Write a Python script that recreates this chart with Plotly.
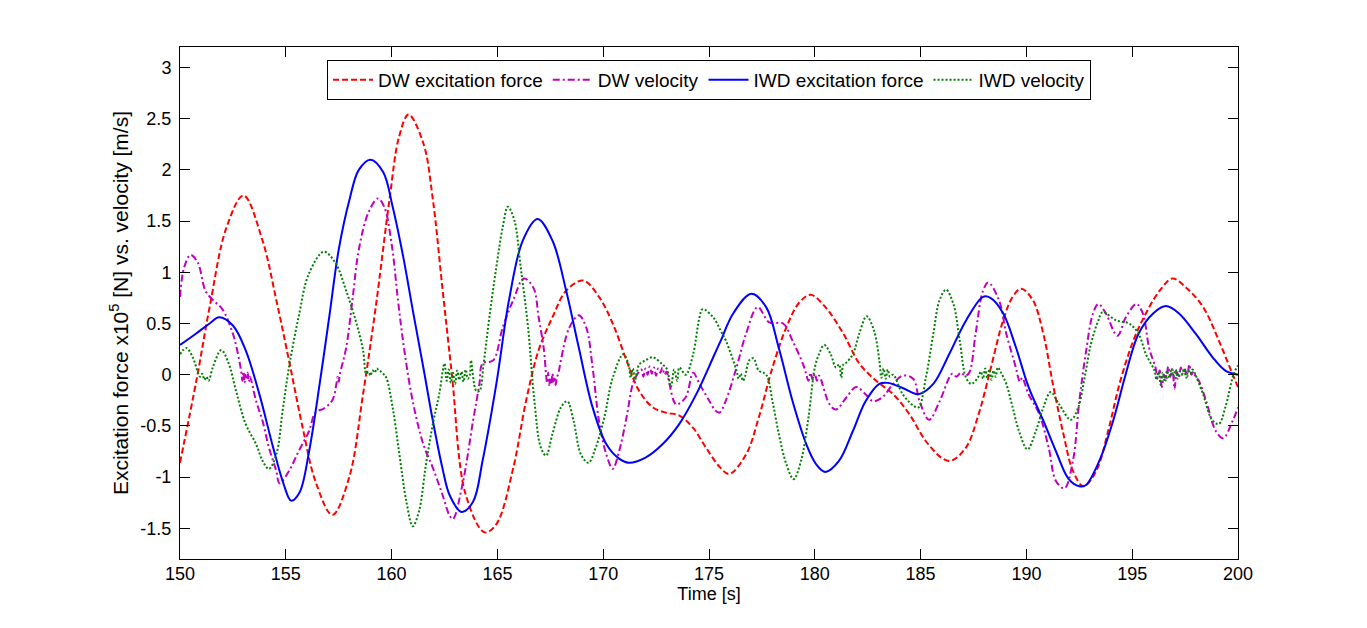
import plotly.graph_objects as go

# DW excitation force (x10^5 N)
dw_force_t = [150.0, 150.8, 151.4, 152.2, 153.0, 153.9, 154.55, 155.15, 155.8, 156.4, 157.2, 158.0, 158.65,
              159.25, 159.9, 160.35, 160.8, 161.5, 161.95, 162.4, 162.85, 163.5, 164.4, 164.95, 165.75, 166.35,
              166.95, 167.6, 168.25, 169.05, 169.8, 170.45, 171.1, 171.7, 172.35, 172.95, 173.6, 174.25, 174.85,
              175.5, 175.95, 176.75, 177.35, 178.0, 178.65, 179.25, 179.8, 180.5, 181.35, 182.1, 182.9, 183.7,
              184.45, 185.25, 186.05, 186.45, 187.15, 187.75, 188.3, 188.9, 189.35, 189.75, 190.3, 190.8, 191.25,
              191.75, 192.2, 192.7, 193.3, 193.9, 194.4, 195.05, 195.65, 196.3, 196.9, 197.55, 198.35, 199.1,
              199.75, 200.0]
dw_force_v = [-0.86, -0.03, 0.66, 1.44, 1.75, 1.31, 0.73, 0.14, -0.52, -1.04, -1.37, -1.0, -0.19,
              0.66, 1.71, 2.32, 2.54, 2.26, 1.71, 0.85, 0.0, -1.17, -1.54, -1.46, -0.91, -0.26,
              0.24, 0.56, 0.82, 0.92, 0.76, 0.5, 0.14, -0.16, -0.32, -0.37, -0.40, -0.52, -0.71,
              -0.9, -0.97, -0.78, -0.42, 0.07, 0.46, 0.7, 0.78, 0.66, 0.4, 0.11, -0.06, -0.19,
              -0.38, -0.65, -0.82, -0.84, -0.71, -0.38, 0.05, 0.53, 0.76, 0.84, 0.73, 0.4, -0.09,
              -0.58, -0.94, -1.09, -0.94, -0.52, -0.09, 0.33, 0.6, 0.82, 0.94, 0.85, 0.66, 0.33,
              0.0, -0.12]

# DW velocity (m/s)
dw_vel_t = [150.0, 150.2, 150.5, 150.85, 151.2, 151.55, 152.0, 152.5, 152.8,
            152.9, 152.95, 153.0, 153.05, 153.1, 153.15, 153.2, 153.25, 153.3,
            153.6, 153.9, 154.2, 154.55, 154.7, 155.15, 155.6, 156.1, 156.4, 156.8, 157.2,
            157.4, 157.45, 157.5, 157.55, 157.85, 158.15, 158.45, 158.9, 159.35, 159.65, 160.0,
            160.3, 160.6, 161.0, 161.5, 161.95, 162.4, 162.75, 162.9, 163.35, 163.85, 164.15,
            164.3, 164.8, 165.25, 165.75, 166.25, 166.7, 166.95, 167.2,
            167.3, 167.35, 167.4, 167.45, 167.5, 167.55, 167.6, 167.65, 167.7, 167.75, 167.8, 167.9,
            168.0, 168.4, 168.85, 169.2, 169.5, 169.8, 170.15, 170.45, 170.75, 171.1, 171.4, 171.6,
            171.8, 171.9, 172.0, 172.1, 172.2, 172.3, 172.4, 172.5, 172.6, 172.7, 172.8, 172.9, 173.0,
            173.1, 173.45, 173.9, 174.25, 174.55, 175.0, 175.3, 175.5, 175.8, 176.3, 176.75, 177.3,
            177.85, 178.5, 178.95, 179.45,
            179.6, 179.7, 179.8, 179.9, 180.0, 180.1, 180.2, 180.3,
            180.4, 180.7, 181.0, 181.5, 181.95, 182.4, 182.75, 183.2, 183.7, 184.15, 184.65, 184.95,
            185.4, 185.9, 186.35, 186.5, 186.7, 186.9, 187.1, 187.3, 187.6, 187.95, 188.2, 188.7,
            189.05, 189.5, 189.6, 189.7, 189.8, 190.1, 190.6, 191.05, 191.4, 191.8, 192.2, 192.5,
            192.8, 193.15, 193.4, 193.75, 194.3, 194.7, 195.2, 195.5, 195.8, 196.1,
            196.2, 196.3, 196.4, 196.5, 196.6, 196.7, 196.8, 196.9, 197.0, 197.1, 197.2, 197.3,
            197.4, 197.5, 197.6, 197.7, 197.8, 197.9, 198.0,
            198.15, 198.5, 198.95, 199.3, 199.75, 200.0]
dw_vel_v = [0.76, 1.05, 1.17, 1.09, 0.82, 0.73, 0.64, 0.4, 0.14,
            0.02, -0.06, 0.03, -0.08, 0.0, -0.05, 0.02, -0.07, -0.02,
            -0.26, -0.45, -0.71, -0.94, -1.06, -0.94, -0.75, -0.55, -0.37, -0.33, -0.25,
            -0.08, -0.02, -0.07, 0.0, 0.26, 0.73, 1.22, 1.58, 1.72, 1.64, 1.28,
            0.73, 0.24, -0.26, -0.68, -0.91, -1.17, -1.38, -1.41, -1.07, -0.45, -0.09,
            0.11, 0.14, 0.46, 0.73, 0.94, 0.85, 0.56, 0.24,
            0.0, -0.08, 0.02, -0.1, -0.03, -0.09, 0.01, -0.07, -0.02, -0.1, -0.04, 0.03,
            0.14, 0.46, 0.58, 0.46, 0.07, -0.45, -0.78, -0.92, -0.75, -0.42, -0.09, 0.0,
            0.05, -0.02, 0.06, 0.0, 0.08, 0.01, 0.07, -0.01, 0.06, 0.02, 0.07, 0.0, 0.03,
            -0.06, -0.29, -0.22, 0.02, -0.09, -0.25, -0.35, -0.37, -0.25, 0.07, 0.4, 0.66,
            0.51, 0.5, 0.33, 0.1,
            0.0, -0.06, 0.02, -0.05, 0.01, -0.06, -0.01, -0.05,
            -0.12, -0.29, -0.34, -0.22, -0.12, -0.19, -0.26, -0.22, -0.09, -0.01, -0.04, -0.26,
            -0.44, -0.26, -0.03, 0.01, -0.02, 0.02, -0.01, 0.02, 0.4, 0.82, 0.9, 0.73,
            0.4, 0.07, -0.02, -0.07, -0.03, -0.19, -0.38, -0.71, -1.04, -1.11, -0.84, -0.26,
            0.2, 0.6, 0.69, 0.6, 0.38, 0.56, 0.69, 0.6, 0.26, 0.07,
            -0.03, 0.04, -0.12, 0.0, -0.05, 0.08, -0.02, 0.05, -0.14, 0.03, -0.03, 0.07,
            0.0, 0.05, -0.02, 0.1, 0.0, 0.03, -0.02,
            -0.06, -0.26, -0.55, -0.62, -0.45, -0.32]

# IWD excitation force (x10^5 N)
iwd_force_t = [150.0, 150.75, 151.4, 151.85, 152.5, 153.1, 153.75, 154.4, 154.9, 155.25, 155.65, 156.1,
               156.6, 157.05, 157.5, 158.0, 158.45, 159.0, 159.6, 160.05, 160.55, 161.0, 161.5, 161.95,
               162.4, 162.75, 163.3, 163.85, 164.3, 164.95, 165.55, 166.2, 166.9, 167.6, 168.25, 168.85,
               169.5, 170.15, 170.75, 171.2, 172.0, 172.8, 173.6, 174.4, 175.2, 175.55, 176.15, 177.0,
               177.7, 178.3, 178.95, 179.6, 180.05, 180.5, 181.15, 181.8, 182.4, 183.05, 183.45, 184.15,
               184.9, 185.6, 186.35, 187.15, 187.95, 188.3, 188.9, 189.5, 190.1, 190.8, 191.4, 192.0,
               192.5, 192.8, 193.45, 194.1, 194.7, 195.3, 196.0, 196.6, 197.2, 198.0, 198.8, 199.4,
               200.0]
iwd_force_v = [0.29, 0.4, 0.5, 0.56, 0.48, 0.24, -0.19, -0.71, -1.07, -1.23, -1.15, -0.75,
               -0.09, 0.56, 1.22, 1.7, 2.0, 2.1, 1.98, 1.64, 1.15, 0.63, 0.07, -0.45,
               -0.91, -1.18, -1.34, -1.24, -0.84, -0.09, 0.73, 1.31, 1.52, 1.31, 0.82, 0.26,
               -0.32, -0.68, -0.82, -0.86, -0.81, -0.68, -0.48, -0.19, 0.17, 0.33, 0.6, 0.79,
               0.66, 0.26, -0.26, -0.68, -0.87, -0.95, -0.84, -0.55, -0.26, -0.09, -0.08, -0.13,
               -0.19, -0.09, 0.2, 0.53, 0.76, 0.75, 0.6, 0.27, -0.12, -0.45, -0.75, -1.02,
               -1.09, -1.08, -0.84, -0.45, 0.01, 0.4, 0.6, 0.67, 0.6, 0.4, 0.17, 0.04,
               0.0]

# IWD velocity (m/s)
iwd_vel_t = [150.0, 150.3, 150.6, 150.85, 150.95, 151.05, 151.15, 151.25, 151.35, 151.55, 151.95, 152.3,
             152.65, 153.1, 153.6, 153.9, 154.2, 154.55, 154.85, 155.15, 155.6, 156.1, 156.8, 157.35,
             157.85, 158.3, 158.65, 158.8, 158.9, 159.0, 159.1, 159.2, 159.3, 159.4, 159.5, 159.6,
             159.75, 160.05, 160.35, 160.7, 161.0, 161.3, 161.6, 161.95, 162.25, 162.5,
             162.6, 162.7, 162.8, 162.9, 163.0, 163.1, 163.2, 163.3, 163.4, 163.5, 163.6, 163.7,
             163.75, 164.0, 164.15, 164.35, 164.6, 164.95, 165.25, 165.5, 165.8, 166.1, 166.45, 166.75,
             167.05, 167.3, 167.6, 168.0, 168.3, 168.6, 168.95, 169.3, 169.65, 170.05, 170.45, 170.95,
             171.2, 171.3, 171.4, 171.5, 171.6, 171.7, 172.0, 172.35, 172.8, 173.0, 173.2, 173.35,
             173.5, 173.6, 173.9, 174.25, 174.55, 174.7, 175.2, 175.55, 175.8, 176.3,
             176.4, 176.5, 176.6, 176.7, 176.9, 177.1, 177.35, 177.7, 178.0, 178.3, 178.65, 179.0,
             179.35, 179.7, 180.0, 180.2, 180.45, 180.75, 181.0, 181.15, 181.25, 181.35, 181.5, 181.8,
             182.1, 182.45, 182.8, 183.05, 183.15, 183.25, 183.35, 183.45, 183.55, 183.7, 184.15, 184.65,
             184.9, 185.25, 185.6, 185.9, 186.2, 186.55, 186.85, 187.15, 187.4, 187.7,
             187.85, 187.95, 188.05, 188.15, 188.25, 188.35, 188.45, 188.55, 188.65, 188.8,
             189.05, 189.35, 189.65, 190.05, 190.45, 190.8, 191.15, 191.55, 192.1, 192.45, 192.75, 193.05,
             193.4, 193.6, 194.25, 194.85, 195.3, 195.65, 196.05,
             196.15, 196.25, 196.35, 196.45, 196.55, 196.65, 196.75, 196.85, 196.95, 197.05, 197.15,
             197.25, 197.35, 197.45, 197.55, 197.65, 197.75, 197.85, 197.95,
             198.05, 198.35, 198.8, 199.1, 199.4, 199.8, 200.0]
iwd_vel_v = [0.2, 0.26, 0.17, 0.02, -0.02, 0.01, -0.05, -0.02, -0.06, 0.07, 0.24, 0.11,
             -0.16, -0.48, -0.68, -0.84, -0.92, -0.78, -0.35, 0.07, 0.56, 0.99, 1.2, 1.09,
             0.82, 0.53, 0.24, 0.01, 0.03, -0.01, 0.04, 0.02, 0.06, 0.04, 0.03, 0.01,
             -0.03, -0.32, -0.75, -1.24, -1.48, -1.33, -0.91, -0.48, -0.19, 0.11,
             -0.06, 0.05, -0.08, 0.02, -0.09, 0.04, -0.05, 0.03, -0.07, 0.05, -0.04, 0.0,
             0.14, -0.16, -0.16, 0.11, 0.53, 1.05, 1.44, 1.64, 1.51, 1.05, 0.46, -0.26,
             -0.71, -0.79, -0.58, -0.32, -0.26, -0.45, -0.78, -0.86, -0.71, -0.42, -0.03, 0.2,
             0.1, -0.03, 0.06, -0.05, 0.03, 0.1, 0.14, 0.17, 0.1, 0.06, -0.12, 0.05,
             -0.06, 0.07, 0.0, 0.2, 0.56, 0.64, 0.56, 0.43, 0.33, 0.04,
             -0.04, 0.01, -0.06, -0.02, 0.14, 0.16, 0.04, 0.0, -0.26, -0.58, -0.87, -1.02,
             -0.84, -0.42, 0.07, 0.2, 0.29, 0.2, 0.07, 0.1, -0.03, 0.1, 0.12, 0.2,
             0.4, 0.57, 0.43, 0.14, -0.03, 0.06, -0.04, 0.05, -0.02, 0.0, -0.19, -0.3,
             -0.32, -0.03, 0.4, 0.73, 0.83, 0.69, 0.33, -0.03, -0.09, -0.03,
             0.03, -0.04, 0.06, -0.03, 0.05, -0.05, 0.04, -0.02, 0.07, 0.02,
             -0.09, -0.32, -0.55, -0.73, -0.55, -0.32, -0.17, -0.29, -0.44, -0.32, -0.03, 0.3,
             0.53, 0.61, 0.53, 0.5, 0.4, 0.2, 0.04,
             -0.05, 0.03, -0.1, 0.02, -0.07, 0.04, -0.03, 0.06, -0.02, 0.05, -0.04,
             0.03, 0.0, 0.06, -0.03, 0.04, 0.01, 0.05, 0.02,
             -0.03, -0.19, -0.45, -0.48, -0.32, 0.01, 0.09]

x_ticks = [150, 155, 160, 165, 170, 175, 180, 185, 190, 195, 200]
y_ticks = [-1.5, -1, -0.5, 0, 0.5, 1, 1.5, 2, 2.5, 3]
y_ticktext = ["-1.5", "-1", "-0.5", "0", "0.5", "1", "1.5", "2", "2.5", "3"]

font = "Liberation Sans, Arial, Helvetica, sans-serif"

fig = go.Figure()

fig.add_trace(go.Scatter(x=dw_force_t, y=dw_force_v, mode='lines', name='DW excitation force',
                         line=dict(color='#FF0000', width=2, dash='6px,3px', shape='spline')))
fig.add_trace(go.Scatter(x=dw_vel_t, y=dw_vel_v, mode='lines', name='DW velocity',
                         line=dict(color='#BF00BF', width=2, dash='7px,3px,2px,3px', shape='spline')))
fig.add_trace(go.Scatter(x=iwd_force_t, y=iwd_force_v, mode='lines', name='IWD excitation force',
                         line=dict(color='#0000FF', width=2, shape='spline')))
fig.add_trace(go.Scatter(x=iwd_vel_t, y=iwd_vel_v, mode='lines', name='IWD velocity',
                         line=dict(color='#008000', width=2, dash='2px,2px', shape='spline')))

# the page body adds an 8 px offset, so the margins are shifted to put the axes where the reference has them
fig.update_layout(
    width=1367, height=628,
    margin=dict(l=172, r=137, t=39, b=77),
    paper_bgcolor='white', plot_bgcolor='white',
    font=dict(family=font, size=18, color='black'),
    showlegend=True,
    legend=dict(orientation='h', x=0.5, xanchor='center', y=0.975, yanchor='top',
                bordercolor='black', borderwidth=1, bgcolor='white',
                font=dict(size=19), itemwidth=40, tracegroupgap=0),
)

fig.update_xaxes(range=[150, 200], tickvals=x_ticks, ticks='inside', ticklen=10, tickcolor='black',
                 showline=True, linecolor='black', linewidth=1, mirror='allticks', showgrid=False,
                 zeroline=False, tickfont=dict(size=18), ticklabelstandoff=-2,
                 title=dict(text='Time [s]', font=dict(size=18), standoff=4))
fig.update_yaxes(range=[-1.8, 3.2], tickvals=y_ticks, ticktext=y_ticktext, ticks='inside', ticklen=10,
                 tickcolor='black', showline=True, linecolor='black', linewidth=1, mirror='allticks',
                 showgrid=False, zeroline=False, tickfont=dict(size=18), ticklabelstandoff=4,
                 title=dict(text='Excitation force x10<sup>5</sup> [N] vs. velocity [m/s]',
                            font=dict(size=21), standoff=6))

fig.write_html("out.html")
